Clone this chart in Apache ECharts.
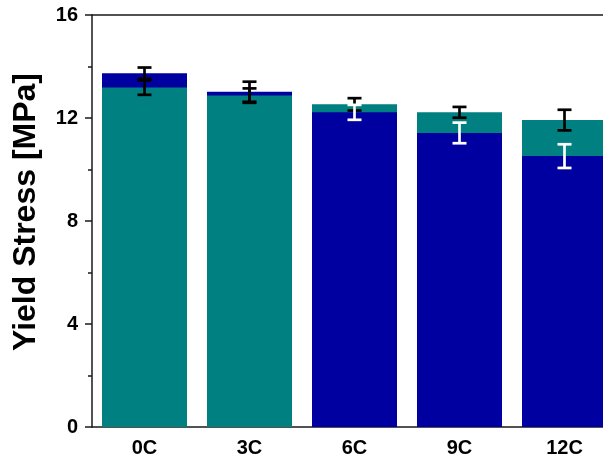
<!DOCTYPE html>
<html>
<head>
<meta charset="utf-8">
<script src="https://cdn.jsdelivr.net/npm/echarts@6/dist/echarts.min.js"></script>
<style>
  html, body { margin: 0; padding: 0; background: #fff; }
  #chart { width: 603px; height: 467px; }
</style>
</head>
<body>
<div id="chart"></div>
<script>
// Yield stress per sample group, two overlapping bar series with error bars
const categories = ['0C', '3C', '6C', '9C', '12C'];
const tealStress = [13.18, 12.87, 12.53, 12.22, 11.92];
const tealErr    = [0.28, 0.28, 0.24, 0.21, 0.40];
const blueStress = [13.74, 13.02, 12.22, 11.42, 10.52];
const blueErr    = [0.22, 0.39, 0.29, 0.40, 0.46];
const yTicks = [0, 4, 8, 12, 16];

const TEAL = '#008080';
const BLUE = '#0000A0';
const FONT = "'Liberation Sans', Arial, sans-serif";
const AXIS_COLOR = '#1a1a1a';

// Taller bar goes behind, shorter bar drawn in front
const backData = [], frontData = [];
categories.forEach((c, i) => {
  const t = { value: tealStress[i], itemStyle: { color: TEAL } };
  const b = { value: blueStress[i], itemStyle: { color: BLUE } };
  if (blueStress[i] >= tealStress[i]) { backData.push(b); frontData.push(t); }
  else { backData.push(t); frontData.push(b); }
});

// Error bars: white when sitting on a front blue bar, black otherwise
const errData = [];
categories.forEach((c, i) => {
  errData.push({ value: [i, tealStress[i] - tealErr[i], tealStress[i] + tealErr[i]], color: '#000' });
  const blueFront = blueStress[i] < tealStress[i];
  errData.push({ value: [i, blueStress[i] - blueErr[i], blueStress[i] + blueErr[i]], color: blueFront ? '#fff' : '#000' });
});

const chart = echarts.init(document.getElementById('chart'), null, { renderer: 'canvas' });

const lineStyle = { color: AXIS_COLOR, width: 1.5 };

chart.setOption({
  animation: false,
  backgroundColor: '#fff',
  grid: { left: 92, top: 15, width: 525, height: 412, outerBoundsMode: 'none', containLabel: false },
  xAxis: [
    {
      type: 'category', data: categories, position: 'bottom',
      axisLine: { lineStyle: lineStyle },
      axisTick: { alignWithLabel: true, length: 7, lineStyle: lineStyle },
      axisLabel: { color: '#000', fontFamily: FONT, fontWeight: 'bold', fontSize: 20, margin: 11 },
      splitLine: { show: false }
    },
    {
      type: 'category', data: categories, position: 'bottom',
      axisLine: { show: false },
      axisTick: { alignWithLabel: false, length: 4, lineStyle: lineStyle },
      axisLabel: { show: false }, splitLine: { show: false }
    },
    {
      type: 'category', data: categories, position: 'top',
      axisLine: { lineStyle: lineStyle },
      axisTick: { alignWithLabel: true, inside: true, length: 7, lineStyle: lineStyle },
      axisLabel: { show: false }, splitLine: { show: false }
    },
    {
      type: 'category', data: categories, position: 'top',
      axisLine: { show: false },
      axisTick: { alignWithLabel: false, inside: true, length: 4, lineStyle: lineStyle },
      axisLabel: { show: false }, splitLine: { show: false }
    }
  ],
  yAxis: {
    type: 'value', min: yTicks[0], max: yTicks[yTicks.length - 1], interval: yTicks[1] - yTicks[0],
    axisLine: { show: true, lineStyle: lineStyle },
    axisTick: { show: true, length: 7, lineStyle: lineStyle },
    minorTick: { show: true, splitNumber: 2, length: 4, lineStyle: lineStyle },
    axisLabel: { color: '#000', fontFamily: FONT, fontWeight: 'bold', fontSize: 20, margin: 14 },
    splitLine: { show: false }
  },
  graphic: [{
    type: 'text', x: 26, y: 212, rotation: Math.PI / 2,
    style: {
      text: 'Yield Stress [MPa]', fill: '#000', font: "bold 32px 'Liberation Sans', Arial, sans-serif",
      align: 'center', verticalAlign: 'middle'
    }
  }],
  series: [
    { type: 'bar', name: 'back', data: backData, barWidth: 85, barGap: '-100%', xAxisIndex: 0, z: 2 },
    { type: 'bar', name: 'front', data: frontData, barWidth: 85, barGap: '-100%', xAxisIndex: 0, z: 3 },
    {
      type: 'custom', name: 'error', xAxisIndex: 0, z: 4,
      data: errData,
      renderItem: function (params, api) {
        const i = api.value(0);
        const lo = api.coord([i, api.value(1)]);
        const hi = api.coord([i, api.value(2)]);
        const color = errData[params.dataIndex].color;
        const half = 7;
        const st = { stroke: color, lineWidth: 2.7 };
        return {
          type: 'group',
          children: [
            { type: 'line', shape: { x1: hi[0], y1: hi[1], x2: lo[0], y2: lo[1] }, style: st },
            { type: 'line', shape: { x1: hi[0] - half, y1: hi[1], x2: hi[0] + half, y2: hi[1] }, style: st },
            { type: 'line', shape: { x1: lo[0] - half, y1: lo[1], x2: lo[0] + half, y2: lo[1] }, style: st }
          ]
        };
      }
    }
  ]
});
</script>
</body>
</html>
